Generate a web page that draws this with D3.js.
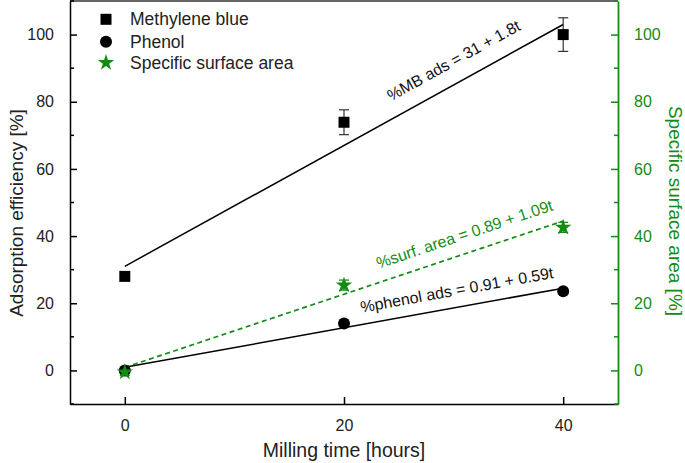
<!DOCTYPE html>
<html>
<head>
<meta charset="utf-8">
<script src="https://cdn.jsdelivr.net/npm/d3@7"></script>
<style>
  body { margin: 0; background: #fff; }
  svg { display: block; font-family: Arial, "Liberation Sans", sans-serif; }
</style>
</head>
<body>
<svg class="chart"></svg>
<script>
// data
var times = [0, 20, 40];
var mbValues = [28, 73.9, 100];
var mbErrors = [0, 3.7, 5];
var phenolValues = [0, 14, 23.6];
var surfValues = [-0.5, 25.4, 42.6];
var surfErrors = [1, 1.5, 1.5];

// fitted lines, values at t = 0 and t = 40
var fitTimes = [0, 40];
var mbFit = [31, 103];
var phenolFit = [0.91, 24.5];
var surfFit = [0.89, 44.5];

var xTicks = [0, 20, 40];
var yTicks = [0, 20, 40, 60, 80, 100];
var yMinorTicks = [-10, 10, 30, 50, 70, 90, 110];

var green = "#138c13";

var width = 685, height = 463;
var margin = {top: 1, right: 67, bottom: 59, left: 70};

var x = d3.scaleLinear().domain([-5, 45]).range([margin.left, width - margin.right]);
var y = d3.scaleLinear().domain([-10, 110]).range([height - margin.bottom, margin.top]);

var svg = d3.select("svg.chart")
    .attr("width", width)
    .attr("height", height);

// frame top
svg.append("line")
  .attr("x1", x(-5)).attr("x2", x(45))
  .attr("y1", y(110)).attr("y2", y(110))
  .attr("stroke", "#333").attr("stroke-width", 1.5);

// bottom axis
var xAxis = svg.append("g")
  .attr("transform", "translate(0," + y(-10) + ")")
  .call(d3.axisBottom(x).tickValues(xTicks).tickSizeInner(-7).tickSizeOuter(0).tickPadding(16));

// left axis
var yAxis = svg.append("g")
  .attr("transform", "translate(" + x(-5) + ",0)")
  .call(d3.axisLeft(y).tickValues(yTicks).tickSizeInner(-7).tickSizeOuter(0).tickPadding(16));
yAxis.selectAll(".tick.minor")
  .data(yMinorTicks).enter().append("line")
  .attr("x1", 0).attr("x2", 4)
  .attr("y1", function(d) { return y(d); })
  .attr("y2", function(d) { return y(d); })
  .attr("stroke", "#000").attr("stroke-width", 1.3);

// right axis (same scale, green)
var y2Axis = svg.append("g")
  .attr("transform", "translate(" + x(45) + ",0)")
  .call(d3.axisRight(y).tickValues(yTicks).tickSizeInner(-7).tickSizeOuter(0).tickPadding(16));
y2Axis.selectAll(".tick.minor")
  .data(yMinorTicks).enter().append("line")
  .attr("x1", 0).attr("x2", -4)
  .attr("y1", function(d) { return y(d); })
  .attr("y2", function(d) { return y(d); })
  .attr("stroke", green).attr("stroke-width", 1.3);

[xAxis, yAxis].forEach(function(g) {
  g.selectAll("path, line").attr("stroke", "#000").attr("stroke-width", 1.5);
  g.selectAll("text").attr("font-size", 16).attr("fill", "#222").attr("font-family", "Arial, 'Liberation Sans', sans-serif");
});
y2Axis.selectAll("path, line").attr("stroke", green).attr("stroke-width", 1.5);
y2Axis.selectAll("text").attr("font-size", 16).attr("fill", green).attr("font-family", "Arial, 'Liberation Sans', sans-serif");
y2Axis.select("path").attr("stroke-width", 1.8);

// axis titles
svg.append("text")
  .attr("x", (x(-5) + x(45)) / 2).attr("y", 457)
  .attr("text-anchor", "middle").attr("font-size", 19.5).attr("fill", "#222")
  .text("Milling time [hours]");

svg.append("text")
  .attr("transform", "translate(23," + 213 + ") rotate(-90)")
  .attr("text-anchor", "middle").attr("font-size", 19).attr("fill", "#222")
  .text("Adsorption efficiency [%]");

svg.append("text")
  .attr("transform", "translate(669," + 211 + ") rotate(90)")
  .attr("text-anchor", "middle").attr("font-size", 19).attr("fill", green)
  .text("Specific surface area [%]");

// fit lines
var fitLine = d3.line()
  .x(function(d) { return x(d[0]); })
  .y(function(d) { return y(d[1]); });

function fitPoints(vals) { return fitTimes.map(function(t, i) { return [t, vals[i]]; }); }

svg.append("path").datum(fitPoints(mbFit))
  .attr("d", fitLine).attr("fill", "none").attr("stroke", "#000").attr("stroke-width", 1.5);
svg.append("path").datum(fitPoints(phenolFit))
  .attr("d", fitLine).attr("fill", "none").attr("stroke", "#000").attr("stroke-width", 1.5);
svg.append("path").datum(fitPoints(surfFit))
  .attr("d", fitLine).attr("fill", "none").attr("stroke", green).attr("stroke-width", 1.7)
  .attr("stroke-dasharray", "5,3.5");

// fit equations, rotated along their lines
function slopeAngle(vals) {
  return Math.atan2(y(vals[1]) - y(vals[0]), x(fitTimes[1]) - x(fitTimes[0])) * 180 / Math.PI;
}
var labels = [
  {t: 30, v: 92.3, fit: mbFit, color: "#111", text: "%MB ads = 31 + 1.8t"},
  {t: 31, v: 40.6, fit: surfFit, color: green, text: "%surf. area = 0.89 + 1.09t"},
  {t: 30.3, v: 24.0, fit: phenolFit, color: "#111", text: "%phenol ads = 0.91 + 0.59t"}
];
svg.selectAll("text.eq").data(labels).enter().append("text")
  .attr("class", "eq")
  .attr("transform", function(d) {
    return "translate(" + x(d.t) + "," + y(d.v) + ") rotate(" + slopeAngle(d.fit) + ")";
  })
  .attr("text-anchor", "middle").attr("dy", "0.35em")
  .attr("font-size", 16).attr("fill", function(d) { return d.color; })
  .text(function(d) { return d.text; });

// error bars
function errorBars(vals, errs, color) {
  var data = times.map(function(t, i) { return {t: t, v: vals[i], e: errs[i]}; })
    .filter(function(d) { return d.e > 0; });
  var g = svg.append("g").attr("stroke", color).attr("stroke-width", 1.2);
  g.selectAll("line.v").data(data).enter().append("line")
    .attr("x1", function(d) { return x(d.t); }).attr("x2", function(d) { return x(d.t); })
    .attr("y1", function(d) { return y(d.v - d.e); }).attr("y2", function(d) { return y(d.v + d.e); });
  [-1, 1].forEach(function(s) {
    g.selectAll("line.c" + s).data(data).enter().append("line")
      .attr("x1", function(d) { return x(d.t) - 5; }).attr("x2", function(d) { return x(d.t) + 5; })
      .attr("y1", function(d) { return y(d.v + s * d.e); }).attr("y2", function(d) { return y(d.v + s * d.e); });
  });
}
errorBars(mbValues, mbErrors, "#333");
errorBars(surfValues, surfErrors, green);

// markers
var sq = 11;
svg.selectAll("rect.mb").data(times).enter().append("rect")
  .attr("x", function(d) { return x(d) - sq / 2; })
  .attr("y", function(d, i) { return y(mbValues[i]) - sq / 2; })
  .attr("width", sq).attr("height", sq).attr("fill", "#000");

svg.selectAll("circle.ph").data(times).enter().append("circle")
  .attr("cx", function(d) { return x(d); })
  .attr("cy", function(d, i) { return y(phenolValues[i]); })
  .attr("r", 6).attr("fill", "#000");

var star = d3.symbol().type(d3.symbolStar).size(85);
svg.selectAll("path.st").data(times).enter().append("path")
  .attr("d", star)
  .attr("transform", function(d, i) { return "translate(" + x(d) + "," + y(surfValues[i]) + ")"; })
  .attr("fill", green);

// legend
var legendNames = ["Methylene blue", "Phenol", "Specific surface area"];
var legendY = [19.3, 41.7, 62.7];
var lg = svg.append("g");
lg.append("rect").attr("x", 106 - sq / 2).attr("y", legendY[0] - sq / 2).attr("width", sq).attr("height", sq).attr("fill", "#000");
lg.append("circle").attr("cx", 106).attr("cy", legendY[1]).attr("r", 6).attr("fill", "#000");
lg.append("path").attr("d", star).attr("transform", "translate(106," + legendY[2] + ")").attr("fill", green);
lg.selectAll("text").data(legendNames).enter().append("text")
  .attr("x", 130).attr("y", function(d, i) { return legendY[i] + 6; })
  .attr("font-size", 17.5).attr("fill", "#222")
  .text(function(d) { return d; });
</script>
</body>
</html>
